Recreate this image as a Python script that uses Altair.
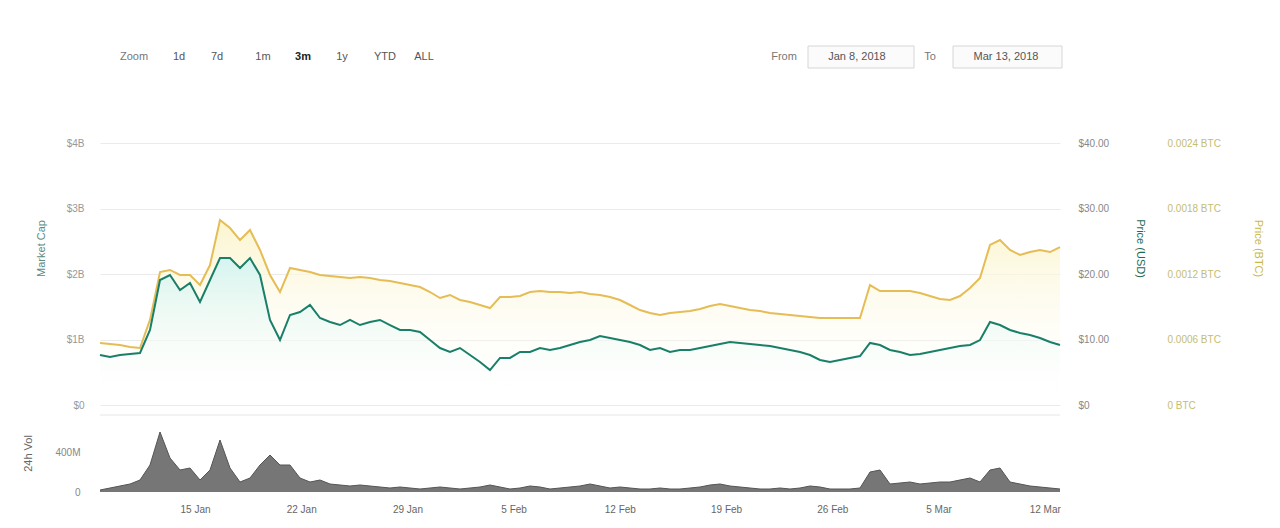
import altair as alt
import pandas as pd

# Price (USD)
usd = [7.63, 7.33, 7.63, 7.79, 7.94, 11.45, 19.08, 19.85, 17.56, 18.63,
       15.73, 19.08, 22.44, 22.44, 20.92, 22.44, 19.85, 12.98, 9.92, 13.74,
       14.20, 15.27, 13.28, 12.67, 12.21, 12.98, 12.21, 12.67, 12.98, 12.21,
       11.45, 11.45, 11.15, 9.92, 8.70, 8.09, 8.70, 7.63, 6.56, 5.34,
       7.18, 7.18, 8.09, 8.09, 8.70, 8.40, 8.70, 9.16, 9.62, 9.92,
       10.53, 10.23, 9.92, 9.62, 9.16, 8.40, 8.70, 8.09, 8.40, 8.40,
       8.70, 9.01, 9.31, 9.62, 9.47, 9.31, 9.16, 9.01, 8.70, 8.40,
       8.09, 7.63, 6.87, 6.56, 6.87, 7.18, 7.48, 9.47, 9.16, 8.40,
       8.09, 7.63, 7.79, 8.09, 8.40, 8.70, 9.01, 9.16, 9.92, 12.67,
       12.21, 11.45, 10.99, 10.69, 10.23, 9.62, 9.16]

# Price (BTC)
btc = [0.000568, 0.000559, 0.000550, 0.000531, 0.000522, 0.000779, 0.001218, 0.001237, 0.001191, 0.001191,
       0.001099, 0.001282, 0.001695, 0.001621, 0.001511, 0.001603, 0.001420, 0.001191, 0.001035, 0.001255,
       0.001237, 0.001218, 0.001191, 0.001182, 0.001172, 0.001163, 0.001172, 0.001163, 0.001145, 0.001136,
       0.001118, 0.001099, 0.001081, 0.001035, 0.000980, 0.001008, 0.000962, 0.000943, 0.000916, 0.000888,
       0.000989, 0.000989, 0.000998, 0.001035, 0.001044, 0.001035, 0.001035, 0.001026, 0.001035, 0.001017,
       0.001008, 0.000989, 0.000962, 0.000916, 0.000870, 0.000843, 0.000824, 0.000843, 0.000852, 0.000861,
       0.000879, 0.000907, 0.000925, 0.000907, 0.000888, 0.000870, 0.000861, 0.000843, 0.000834, 0.000824,
       0.000815, 0.000806, 0.000797, 0.000797, 0.000797, 0.000797, 0.000797, 0.001099, 0.001044, 0.001044,
       0.001044, 0.001044, 0.001026, 0.000998, 0.000971, 0.000962, 0.000998, 0.001072, 0.001163, 0.001466,
       0.001511, 0.001420, 0.001374, 0.001401, 0.001420, 0.001401, 0.001447]

# 24h Volume (millions USD)
vol = [20, 40, 60, 80, 120, 270, 600, 340, 220, 240,
       120, 220, 520, 240, 100, 140, 270, 370, 270, 270,
       140, 100, 120, 80, 70, 60, 70, 60, 50, 40,
       50, 40, 30, 40, 50, 40, 30, 40, 50, 70,
       50, 30, 40, 60, 50, 30, 40, 50, 60, 80,
       60, 40, 50, 40, 30, 30, 40, 30, 30, 40,
       50, 70, 80, 60, 50, 40, 30, 30, 40, 30,
       40, 60, 50, 30, 30, 30, 40, 200, 220, 80,
       90, 100, 80, 90, 100, 100, 120, 140, 100, 220,
       240, 100, 80, 60, 50, 40, 30]

tick_dates = [(1, 15), (1, 22), (1, 29), (2, 5), (2, 12), (2, 19), (2, 26), (3, 5), (3, 12)]
usd_ticks = [0, 10, 20, 30, 40]
btc_ticks = [0, 0.0006, 0.0012, 0.0018, 0.0024]
vol_ticks = [0, 400]

zoom_buttons = ["1d", "7d", "1m", "3m", "1y", "YTD", "ALL"]
from_text = "Jan 8, 2018"
to_text = "Mar 13, 2018"

start = pd.Timestamp("2018-01-08 17:45")
times = pd.date_range(start, periods=len(usd), freq="949min")
df = pd.DataFrame({"t": times, "usd": usd, "btc": btc, "vol": vol})


def dt(ts):
    return alt.DateTime(year=ts.year, month=ts.month, date=ts.day,
                        hours=ts.hour, minutes=ts.minute)


FONT = "Liberation Sans"
TEAL = "#1a7f68"
YEL = "#e6bc55"

x_enc = alt.X(
    "t:T",
    scale=alt.Scale(domain=[dt(times[0]), dt(times[-1])]),
    axis=alt.Axis(values=[alt.DateTime(year=2018, month=m, date=d) for m, d in tick_dates],
                  format="%-d %b", title=None, grid=False, domain=False, ticks=False,
                  labelPadding=12, labelColor="#666", labelFontSize=10, labelFont=FONT,
                  labelOverlap=False),
)

usd_scale = alt.Scale(domain=[0, 40], range=[262, 0])
btc_scale = alt.Scale(domain=[0, 0.0024], range=[262, 0])
vol_scale = alt.Scale(domain=[0, 800], range=[349, 269])

common = dict(domain=False, ticks=False, titleFont=FONT, labelFont=FONT,
              titleFontWeight="normal", titleFontSize=11, labelFontSize=10)

mcap_axis = alt.Axis(orient="left", values=usd_ticks,
                     labelExpr="datum.value == 0 ? '$0' : '$' + (datum.value / 10) + 'B'",
                     title="Market Cap", titleX=-54, titleY=105, titleColor="#5d8c7f",
                     labelColor="#999", labelPadding=16, grid=True, gridColor="#ebebeb", **common)
usd_axis = alt.Axis(orient="right", values=usd_ticks,
                    labelExpr="datum.value == 0 ? '$0' : '$' + format(datum.value, '.2f')",
                    title="Price (USD)", titleX=74, titleY=105, titleColor="#1d6b58",
                    labelColor="#888", labelPadding=18, grid=False, **common)
btc_axis = alt.Axis(orient="right", offset=100, values=btc_ticks,
                    labelExpr="datum.value == 0 ? '0 BTC' : format(datum.value, '.4f') + ' BTC'",
                    title="Price (BTC)", titleX=92, titleY=105, titleColor="#c9b94a",
                    labelColor="#c4bd72", labelPadding=7, grid=False, **common)
vol_axis = alt.Axis(orient="left", values=vol_ticks,
                    labelExpr="datum.value == 0 ? '0' : datum.value + 'M'",
                    title="24h Vol", titleX=-67, titleY=310, titleColor="#666",
                    labelColor="#888", labelPadding=20, grid=False, **common)

btc_grad = alt.Gradient(gradient="linear",
                        stops=[alt.GradientStop(color="#fbf5cf", offset=0),
                               alt.GradientStop(color="rgba(255,255,255,0)", offset=1)],
                        x1=1, x2=1, y1=0, y2=1)
usd_grad = alt.Gradient(gradient="linear",
                        stops=[alt.GradientStop(color="#d6f4f0", offset=0),
                               alt.GradientStop(color="rgba(255,255,255,0)", offset=1)],
                        x1=1, x2=1, y1=0, y2=1)

base = alt.Chart(df)
btc_area = base.mark_area(fill=btc_grad).encode(
    x=x_enc, y=alt.Y("btc:Q", scale=btc_scale, axis=None))
usd_area = base.mark_area(fill=usd_grad).encode(
    x=x_enc, y=alt.Y("usd:Q", scale=usd_scale, axis=usd_axis))
vol_area = base.mark_area(color="#767676").encode(
    x=x_enc, y=alt.Y("vol:Q", scale=vol_scale, axis=vol_axis))
vol_line = base.mark_line(color="#555", strokeWidth=1).encode(
    x=x_enc, y=alt.Y("vol:Q", scale=vol_scale, axis=None))
btc_line = base.mark_line(color=YEL, strokeWidth=2).encode(
    x=x_enc, y=alt.Y("btc:Q", scale=btc_scale, axis=btc_axis))
usd_line = base.mark_line(color=TEAL, strokeWidth=2).encode(
    x=x_enc, y=alt.Y("usd:Q", scale=usd_scale, axis=mcap_axis))

ui = pd.DataFrame({"a": [0]})
divider = alt.Chart(ui).mark_rule(color="#e6e6e6").encode(
    x=alt.value(0), x2=alt.value(960), y=alt.value(272))


def label(text, x, color="#666", weight="normal", size=11):
    return alt.Chart(ui).mark_text(text=text, color=color, fontWeight=weight, fontSize=size,
                                   font=FONT, align="center", baseline="middle").encode(
        x=alt.value(x - 100), y=alt.value(57 - 143))


def box(x0, x1):
    return alt.Chart(ui).mark_rect(fill="#fbfbfb", stroke="#d6d6d6", strokeWidth=1).encode(
        x=alt.value(x0 - 100), x2=alt.value(x1 - 100), y=alt.value(46 - 143), y2=alt.value(68 - 143))


button_x = [179, 217, 263, 303, 342, 385, 424]
ui_layers = [label("Zoom", 134, "#777")]
for b, bx in zip(zoom_buttons, button_x):
    sel = b == "3m"
    ui_layers.append(label(b, bx, "#222" if sel else "#555", "bold" if sel else "normal"))
ui_layers += [box(808, 914), box(953, 1062),
              label("From", 784, "#777"), label(from_text, 857, "#555"),
              label("To", 930, "#777"), label(to_text, 1006, "#555")]

chart = alt.layer(
    btc_area, usd_area, vol_area, vol_line, btc_line, usd_line, divider, *ui_layers
).resolve_scale(y="independent").properties(
    width=960, height=349,
    autosize=alt.AutoSizeParams(type="none"),
    padding={"left": 92, "top": 135, "right": 212, "bottom": 22},
).configure(background="white", view=alt.ViewConfig(stroke=None))

chart.save("out.html", embed_options={"renderer": "svg", "actions": False})
